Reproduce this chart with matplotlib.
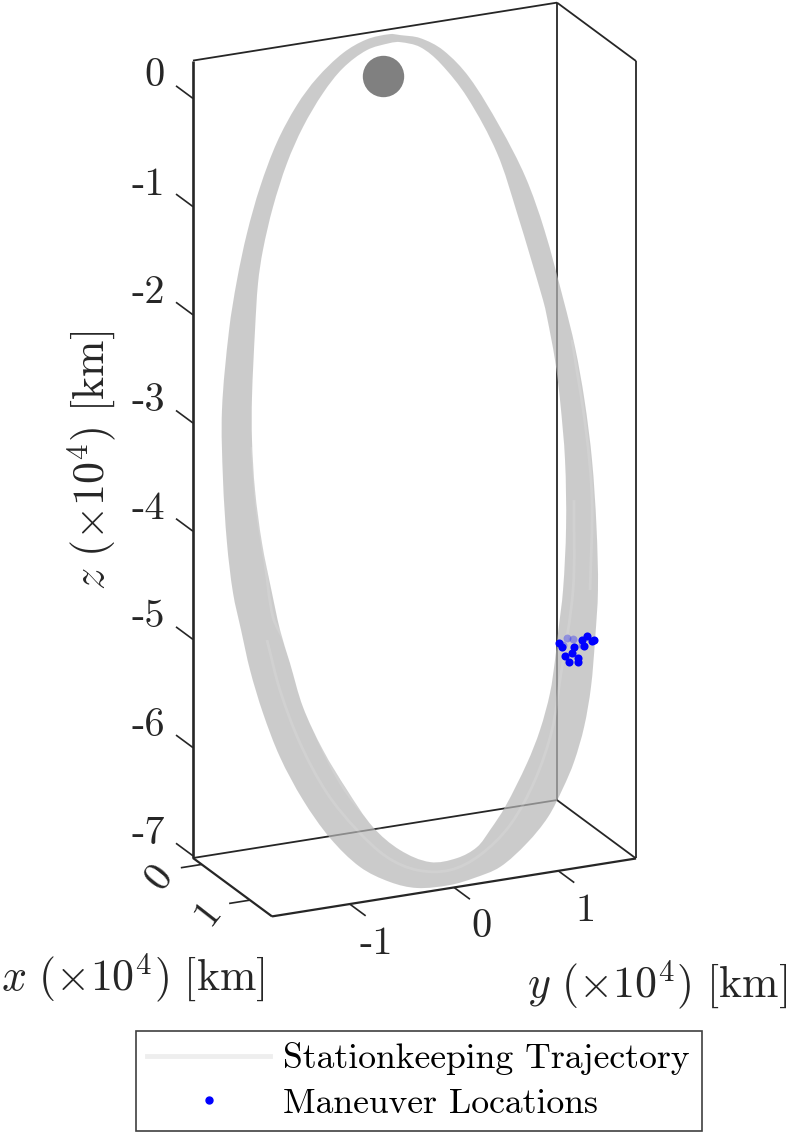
import numpy as np
import matplotlib
matplotlib.use("Agg")
import matplotlib.pyplot as plt
from matplotlib.lines import Line2D
from matplotlib.path import Path
from matplotlib.patches import PathPatch

plt.rcParams['font.family'] = ['cmr10', 'DejaVu Sans']
plt.rcParams['mathtext.fontset'] = 'cm'
plt.rcParams['axes.unicode_minus'] = False
plt.rcParams['axes.formatter.use_mathtext'] = True

# trajectory band, outer and inner edge (units of 1e4 km), x taken as constant
orbit_x = 0.64
outer_y = [-0.236, -0.459, -0.686, -0.936, -1.128, -1.319, -1.482, -1.607, -1.703, -1.779, -1.847, -1.837,
           -1.799, -1.741, -1.664, -1.578, -1.454, -1.291, -1.070, -0.811, -0.523, -0.236, 0.023, 0.339,
           0.570, 0.819, 1.078, 1.279, 1.423, 1.528, 1.625, 1.691, 1.730, 1.758, 1.744, 1.701,
           1.629, 1.538, 1.428, 1.245, 1.063, 0.819, 0.522, 0.272, 0.052, -0.140]
outer_z = [0.634, 0.619, 0.528, 0.335, 0.115, -0.198, -0.589, -0.995, -1.414, -1.865, -2.594, -3.242,
           -3.830, -4.301, -4.655, -5.038, -5.454, -5.886, -6.317, -6.708, -7.020, -7.203, -7.298, -7.319,
           -7.290, -7.226, -7.044, -6.835, -6.589, -6.365, -6.056, -5.697, -5.268, -4.811, -4.226, -3.600,
           -3.035, -2.531, -2.080, -1.405, -0.887, -0.387, 0.120, 0.408, 0.553, 0.610]
inner_y = [-0.236, -0.456, -0.686, -0.878, -1.070, -1.223, -1.358, -1.454, -1.501, -1.530, -1.559, -1.559,
           -1.530, -1.463, -1.367, -1.290, -1.195, -1.070, -0.878, -0.648, -0.399, -0.140, 0.150, 0.407,
           0.598, 0.723, 0.867, 1.078, 1.202, 1.298, 1.346, 1.375, 1.423, 1.452, 1.442, 1.394,
           1.346, 1.269, 1.231, 0.982, 0.790, 0.502, 0.244, 0.052, -0.140]
inner_z = [0.551, 0.520, 0.389, 0.187, -0.097, -0.407, -0.793, -1.175, -1.473, -1.903, -2.518, -2.915,
           -3.382, -3.882, -4.359, -4.712, -5.032, -5.458, -5.885, -6.289, -6.670, -6.922, -7.078, -7.080,
           -7.008, -6.870, -6.679, -6.305, -6.019, -5.692, -5.394, -5.149, -4.759, -4.181, -3.560, -2.999,
           -2.621, -2.212, -2.049, -1.207, -0.623, -0.061, 0.293, 0.470, 0.545]

# lighter tracks inside the band
track_a_y = [-1.559, -1.511, -1.434, -1.358, -1.243, -1.080, -0.907, -0.686, -0.428, -0.140]
track_a_z = [-2.980, -3.570, -4.071, -4.582, -4.840, -5.364, -5.816, -6.256, -6.601, -6.857]
track_b_y = [-1.415, -1.291, -1.099, -0.840, -0.552, -0.265, 0.023, 0.339, 0.627, 0.915, 1.154, 1.317, 1.394,
             1.519, 1.528]
track_b_z = [-4.786, -5.267, -5.786, -6.288, -6.674, -6.968, -7.132, -7.181, -7.086, -6.853, -6.474, -6.037,
             -5.586, -4.774, -3.944]
track_c_y = [1.682, 1.701, 1.643, 1.509]
track_c_z = [-4.799, -3.970, -3.314, -2.461]

# maneuvers
man_y = [1.384, 1.410, 1.528, 1.506, 1.442, 1.483, 1.569, 1.569, 1.602, 1.624, 1.656, 1.698, 1.720]
man_z = [-5.246, -5.287, -5.299, -5.357, -5.372, -5.431, -5.412, -5.444, -5.249, -5.308, -5.217, -5.270, -5.267]
man_far_y = [1.458, 1.522, 1.602, 1.426]
man_far_z = [-5.211, -5.230, -5.295, -5.268]

moon_y = [-0.30]
moon_z = [0.256]

xticks = [0, 1]
yticks = [-1, 0, 1]
zticks = [0, -1, -2, -3, -4, -5, -6, -7]
xmin, xmax = -0.18, 1.456
ymin, ymax = -1.745, 1.745
zmin, zmax = -7.02, 0.35


def project(x, y, z):
    # fixed oblique view, same as the figure's camera
    x, y, z = np.asarray(x, float), np.asarray(y, float), np.asarray(z, float)
    sx = 193 + 48.3 * (x - xmin) + 104.3 * (y - ymin)
    sy = 858 + 35.7 * (x - xmin) - 16.6 * (y - ymin) - 108.2 * (z - zmin)
    return sx, sy


def edge(p0, p1, **kw):
    sx, sy = project([p0[0], p1[0]], [p0[1], p1[1]], [p0[2], p1[2]])
    ax.plot(sx, sy, color='#262626', solid_capstyle='butt', **kw)


def curve(y, z, closed=False):
    # bezier through the read points so the curve has no corners
    sx, sy = project(np.full(len(y), orbit_x), y, z)
    p = np.column_stack([sx, sy])
    n = len(p)
    if closed:
        prev, nxt = np.roll(p, 1, axis=0), np.roll(p, -1, axis=0)
    else:
        prev = np.vstack([p[0], p[:-1]])
        nxt = np.vstack([p[1:], p[-1]])
    tan = nxt - prev
    tan = tan / np.linalg.norm(tan, axis=1, keepdims=True)
    verts = [p[0]]
    codes = [Path.MOVETO]
    for i in range(n if closed else n - 1):
        j = (i + 1) % n
        h = np.linalg.norm(p[j] - p[i]) / 3
        verts += [p[i] + tan[i] * h, p[j] - tan[j] * h, p[j]]
        codes += [Path.CURVE4] * 3
    return Path(verts, codes)


fig = plt.figure(figsize=(7.87, 11.35), dpi=100)
ax = fig.add_axes([0, 0, 1, 1])
ax.set_xlim(0, 787)
ax.set_ylim(1135, 0)
ax.axis('off')

# back of the box
edge((xmin, ymin, zmax), (xmin, ymax, zmax), lw=1.3, zorder=1)
edge((xmin, ymax, zmax), (xmax, ymax, zmax), lw=1.3, zorder=1)
edge((xmin, ymax, zmax), (xmin, ymax, zmin), lw=1.3, zorder=1)
edge((xmax, ymax, zmax), (xmax, ymax, zmin), lw=1.3, zorder=1)
edge((xmin, ymin, zmin), (xmin, ymax, zmin), lw=1.3, zorder=1)
edge((xmin, ymax, zmin), (xmax, ymax, zmin), lw=1.3, zorder=1)

# band
band = Path.make_compound_path(curve(outer_y, outer_z, closed=True), curve(inner_y[::-1], inner_z[::-1], closed=True))
ax.add_patch(PathPatch(band, facecolor='#b6b6b6', edgecolor='none', alpha=0.7, zorder=2))
for ty, tz in [(track_a_y, track_a_z), (track_b_y, track_b_z), (track_c_y, track_c_z)]:
    ax.add_patch(PathPatch(curve(ty, tz), facecolor='none', edgecolor='white', lw=2, alpha=0.12, zorder=2.5))

sx, sy = project(np.full(len(man_far_y), orbit_x), man_far_y, man_far_z)
ax.scatter(sx, sy, s=32, color='#0000ff', alpha=0.3, linewidths=0, zorder=3)
sx, sy = project(np.full(len(man_y), orbit_x), man_y, man_z)
ax.scatter(sx, sy, s=34, color='#0000ff', linewidths=0, zorder=4)

sx, sy = project(orbit_x, moon_y, moon_z)
ax.scatter(sx, sy, s=888, color='#808080', linewidths=0, zorder=3)

# front axes
edge((xmin, ymin, zmin), (xmin, ymin, zmax), lw=1.9, zorder=5)
edge((xmin, ymin, zmin), (xmax, ymin, zmin), lw=1.6, zorder=5)
edge((xmax, ymin, zmin), (xmax, ymax, zmin), lw=1.6, zorder=5)

for z in zticks:
    edge((xmin, ymin, z), (xmin - 0.352, ymin, z), lw=1.2, zorder=5)
    sx, sy = project(xmin, ymin, z)
    ax.text(sx - 28, sy - 22, str(z), fontsize=29, color='#262626', ha='right', va='center')
for x in xticks:
    edge((x, ymin, zmin), (x, ymin - 0.2, zmin), lw=1.2, zorder=5)
    sx, sy = project(x, ymin, zmin)
    ax.text(sx - 42, sy + 13, str(x), fontsize=29, color='#262626', ha='center', va='center', rotation=52)
for y in yticks:
    edge((xmax, y, zmin), (xmax + 0.33, y, zmin), lw=1.2, zorder=5)
    sx, sy = project(xmax, y, zmin)
    ax.text(sx + 27, sy + 40, str(y), fontsize=29, color='#262626', ha='center', va='center')

ax.text(133, 978, r'$x\ (\times 10^4)\ [\mathrm{km}]$', fontsize=31.6, color='#262626', ha='center', va='center')
ax.text(657, 985, r'$y\ (\times 10^4)\ [\mathrm{km}]$', fontsize=31.6, color='#262626', ha='center', va='center')
ax.text(92, 460, r'$z\ (\times 10^4)\ [\mathrm{km}]$', fontsize=31.6, color='#262626', ha='center', va='center',
        rotation=90)

handles = [Line2D([], [], color='#eeeeee', lw=3.5),
           Line2D([], [], color='#0000ff', marker='o', ms=5, ls='none')]
leg = ax.legend(handles, ['Stationkeeping Trajectory', 'Maneuver Locations'], loc='lower left',
                bbox_to_anchor=(136 / 787, 4 / 1135, 566 / 787, 100 / 1135), mode='expand', borderaxespad=0,
                fontsize=25.7, handlelength=3.45, handletextpad=0.36, labelspacing=0.36, borderpad=0.31,
                fancybox=False, framealpha=1, edgecolor='#404040', numpoints=1)
leg.get_frame().set_linewidth(1.2)
for t in leg.get_texts():
    t.set_color('black')

fig.savefig('out.png', dpi=100)
